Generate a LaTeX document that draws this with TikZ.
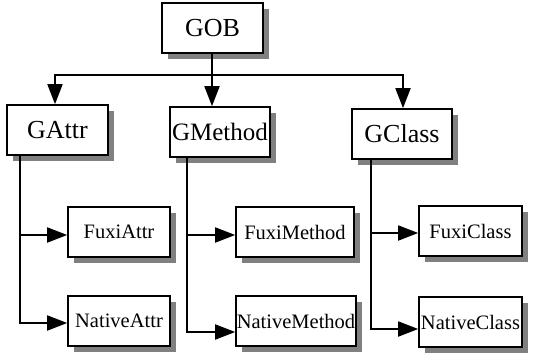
\documentclass[tikz,border=0pt]{standalone}
\usepackage{fontspec}
\setmainfont{Liberation Serif}
\usetikzlibrary{arrows.meta,shadows}
\begin{document}
\begin{tikzpicture}[x=1pt,y=-1pt,
  box/.style={draw, line width=1.6pt, fill=white, minimum height=50pt, inner sep=0pt,
    drop shadow={shadow xshift=6pt, shadow yshift=-6pt, fill=black!50, opacity=1},
    font=\fontsize{26}{28}\selectfont},
  smallbox/.style={box, font=\fontsize{20.5}{22}\selectfont},
  conn/.style={line width=1.8pt},
  arr/.style={conn, -{Triangle[width=15pt,length=20pt]}}]
\useasboundingbox (0,0) rectangle (540,356);
% top level
\node[box, minimum width=101pt] (gob) at (212.5,28) {GOB};
\node[box, minimum width=101pt] (gattr) at (57.5,130) {GAttr};
\node[box, minimum width=100pt] (gmethod) at (220,132) {\fontsize{25}{27}\selectfont GMethod};
\node[box, minimum width=100pt] (gclass) at (402,134) {GClass};
% leaves
\node[smallbox, minimum width=102pt] (fattr) at (119,232) {FuxiAttr};
\node[smallbox, minimum width=102pt] (nattr) at (119,321) {NativeAttr};
\node[smallbox, minimum width=118pt] (fmethod) at (295,232) {FuxiMethod};
\node[smallbox, minimum width=120pt] (nmethod) at (296,321) {NativeMethod};
\node[smallbox, minimum width=103pt] (fclass) at (470.5,231) {FuxiClass};
\node[smallbox, minimum width=103pt] (nclass) at (470.5,322) {NativeClass};
% junction and entry points
\coordinate (j) at (212,75);
\coordinate (ta) at (20,0);
\coordinate (tm) at (187,0);
\coordinate (tc) at (371,0);
\coordinate (gattrin) at ([xshift=-2.5pt]gattr.north);
\coordinate (gclassin) at ([xshift=1pt]gclass.north);
\coordinate (fattrin) at ([yshift=-3pt]fattr.west);
\coordinate (nattrin) at ([yshift=-2pt]nattr.west);
\coordinate (fmethodin) at ([yshift=-3pt]fmethod.west);
\coordinate (nmethodin) at ([yshift=-11pt]nmethod.west);
\coordinate (fclassin) at ([yshift=-2pt]fclass.west);
\coordinate (nclassin) at ([yshift=-7pt]nclass.west);
% GOB -> children
\draw[arr] (j) -| (gattrin);
\draw[arr] (j) -| (gclassin);
\draw[arr] (gob.south -| j) -- (j |- gmethod.north);
% GAttr trunk
\draw[arr] (gattr.south -| ta) |- (nattrin);
\draw[arr] (ta |- fattrin) -- (fattrin);
% GMethod trunk
\draw[arr] (gmethod.south -| tm) |- (nmethodin);
\draw[arr] (tm |- fmethodin) -- (fmethodin);
% GClass trunk
\draw[arr] (gclass.south -| tc) |- (nclassin);
\draw[arr] (tc |- fclassin) -- (fclassin);
\end{tikzpicture}
\end{document}
